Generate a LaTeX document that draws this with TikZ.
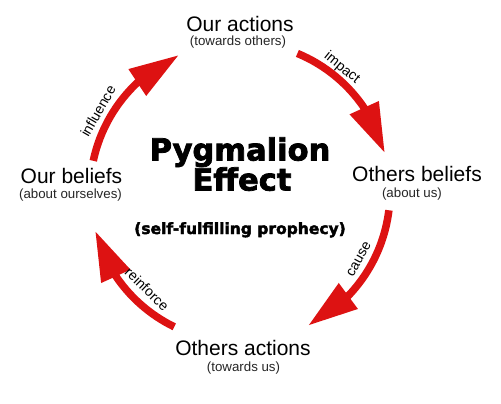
\documentclass[tikz,border=0pt]{standalone}
\usepackage{fontspec}
\setmainfont{Liberation Sans}
\newfontfamily\titlefont{DejaVu Sans}[BoldFeatures={FakeBold=2.5}]
\usetikzlibrary{arrows.meta,bending}
\definecolor{arrowred}{RGB}{221,18,18}
\begin{document}
\begin{tikzpicture}[x=1pt,y=-1pt,
  main/.style={font=\fontsize{21}{24}\selectfont, anchor=base, text=black, inner sep=0pt},
  sub/.style={font=\fontsize{13.3}{15}\selectfont, anchor=base, text=black!85, inner sep=0pt},
  lab/.style={font=\fontsize{14}{16}\selectfont, text=black, inner sep=0pt},
  ttl/.style={font=\titlefont\bfseries\fontsize{30.5}{34}\selectfont, anchor=base, inner sep=0pt},
  cyc/.style={draw=arrowred, line width=7.5pt, -{Triangle[length=50pt,width=30pt]}}]
\useasboundingbox (0,0) rectangle (501,404);
\fill[white] (0,0) rectangle (501,404);
\coordinate (c) at (240,192);

% cycle labels
\node[main] (oa) at (240,32) {Our actions};
\node[sub] (oas) at (238,46) {(towards others)};
\node[main] (ob) at (417,181) {Others beliefs};
\node[sub] (obs) at (412,197) {(about us)};
\node[main] (oact) at (243,355) {Others actions};
\node[sub] (oacts) at (243.5,371) {(towards us)};
\node[main] (ub) at (71.5,183) {Our beliefs};
\node[sub] (ubs) at (70.5,198) {(about ourselves)};

% title
\node[ttl] (t1) at (240,160.5) {Pygmalion};
\node[ttl] (t2) at (242,190.5) {Effect};
\node[ttl, font=\titlefont\bfseries\fontsize{15.5}{18}\selectfont] (t3) at (240,234) {(self-fulfilling prophecy)};

% arrows
\draw[cyc] (c) ++(-67.5:150) arc[start angle=-67.5, end angle=-15, radius=150];
\draw[cyc] (c) ++(7:150) arc[start angle=7, end angle=63, radius=150];
\draw[cyc] (c) ++(116:150) arc[start angle=116, end angle=165, radius=150];
\draw[cyc] (c) ++(-168:150) arc[start angle=-168, end angle=-114, radius=150];

% arrow labels
\node[lab, rotate=60] (l1) at (98,111) {influence};
\node[lab, rotate=-39] (l2) at (342,68) {impact};
\node[lab, rotate=61] (l3) at (359,259) {cause};
\node[lab, rotate=-44] (l4) at (147,289) {reinforce};
\end{tikzpicture}
\end{document}
